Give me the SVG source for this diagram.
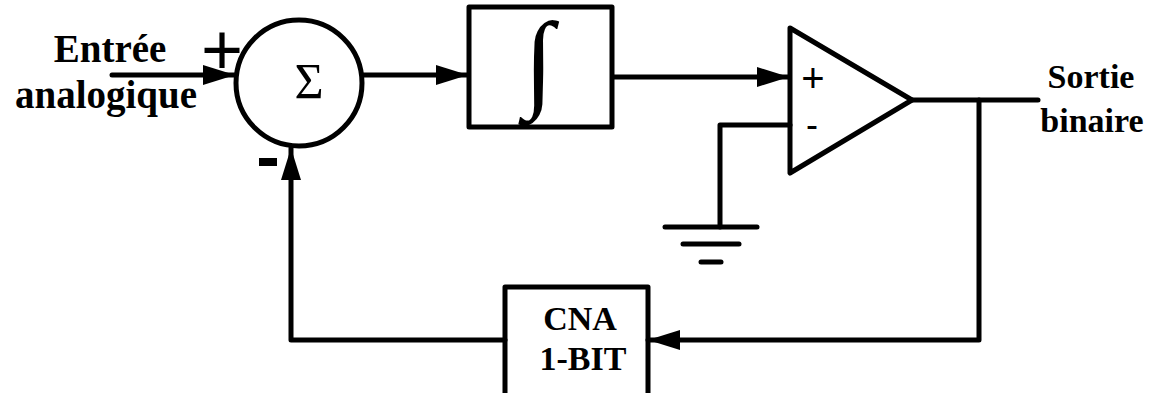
<svg xmlns="http://www.w3.org/2000/svg" width="1167" height="393" viewBox="0 0 1167 393">
<defs>
<style>
.ln{fill:none;stroke:#000;stroke-width:5;stroke-linecap:round;stroke-linejoin:round}
.lbl{font-family:"Liberation Serif","Times New Roman",serif;font-weight:bold;fill:#000}
.sym{font-family:"Liberation Serif","Times New Roman",serif;fill:#000}
.sans{font-family:"Liberation Sans",Arial,sans-serif;fill:#000}
</style>
<marker id="ah" markerUnits="userSpaceOnUse" markerWidth="34" markerHeight="22" refX="32" refY="10" orient="auto" viewBox="0 0 34 22">
<path d="M0,0 L32,10 L0,20 Z" fill="#000"/>
</marker>
</defs>
<rect width="1167" height="393" fill="#fff"/>
<g id="connectors">
<line class="ln" x1="112" y1="75" x2="235" y2="75" marker-end="url(#ah)"/>
<line class="ln" x1="363" y1="75" x2="468" y2="75" marker-end="url(#ah)"/>
<line class="ln" x1="613" y1="77" x2="789" y2="77" marker-end="url(#ah)"/>
<polyline class="ln" points="790,125 720,125 720,227"/>
<line class="ln" x1="912" y1="100" x2="1038" y2="100"/>
<polyline class="ln" points="979,100 979,340 648,340" marker-end="url(#ah)"/>
<polyline class="ln" points="505,340 291,340 291,148" marker-end="url(#ah)"/>
</g>
<g id="input-label">
<text class="lbl" x="110" y="62" font-size="39" text-anchor="middle">Entrée</text>
<text class="lbl" x="106" y="108" font-size="39" text-anchor="middle">analogique</text>
</g>
<g id="sum">
<circle class="ln" cx="299" cy="83" r="63"/>
<text class="sym" x="309" y="98" font-size="50" text-anchor="middle">Σ</text>
<text class="sans" x="222" y="74" font-size="72" text-anchor="middle">+</text>
<rect x="259" y="158" width="18" height="8" fill="#000"/>
</g>
<g id="integrator">
<rect class="ln" x="469" y="7" width="143" height="120"/>
<text class="sym" x="539" y="97" font-size="108" text-anchor="middle">∫</text>
</g>
<g id="comparator">
<polygon class="ln" points="790,28 912,100 790,173"/>
<text class="sans" x="813" y="92" font-size="40" text-anchor="middle">+</text>
<text class="sans" x="812" y="137" font-size="36" text-anchor="middle">-</text>
</g>
<g id="ground">
<line class="ln" x1="665" y1="227" x2="757" y2="227"/>
<line class="ln" x1="683" y1="244" x2="739" y2="244"/>
<line class="ln" x1="701" y1="262" x2="721" y2="262"/>
</g>
<g id="output-label">
<text class="lbl" x="1091" y="88" font-size="34" text-anchor="middle">Sortie</text>
<text class="lbl" x="1092" y="132" font-size="34" text-anchor="middle">binaire</text>
</g>
<g id="dac">
<rect class="ln" x="505" y="287" width="143" height="112"/>
<text class="lbl" x="580" y="330" font-size="34" text-anchor="middle">CNA</text>
<text class="lbl" x="583" y="370" font-size="34" text-anchor="middle">1-BIT</text>
</g>
</svg>
